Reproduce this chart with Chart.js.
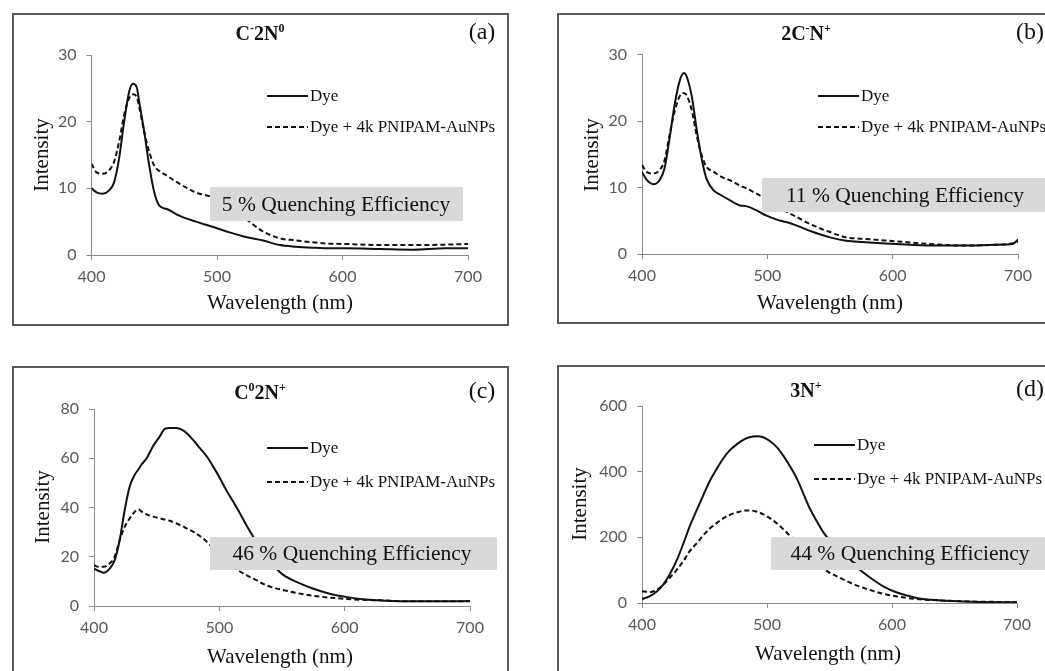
<!DOCTYPE html>
<html>
<head>
<meta charset="utf-8">
<script src="https://cdn.jsdelivr.net/npm/chart.js@4.4.1/dist/chart.umd.min.js"></script>
<style>
  body { margin:0; background:#fff; width:1045px; height:671px; overflow:hidden; position:relative; }
  .cadre { position:absolute; border:2px solid #5a5a5a; box-sizing:border-box; }
  canvas { position:absolute; }
</style>
</head>
<body>
<div class="cadre" style="left:12px;top:13px;width:497px;height:313px"></div>
<div class="cadre" style="left:557px;top:13px;width:520px;height:311px"></div>
<div class="cadre" style="left:12px;top:366px;width:497px;height:340px"></div>
<div class="cadre" style="left:557px;top:365px;width:520px;height:340px"></div>
<canvas id="chartA" width="522" height="335" style="left:0;top:0"></canvas>
<canvas id="chartB" width="520" height="335" style="left:525px;top:0"></canvas>
<canvas id="chartC" width="522" height="335" style="left:0;top:336px"></canvas>
<canvas id="chartD" width="520" height="335" style="left:525px;top:336px"></canvas>
<script>
// ==========================
// Données (longueur d'onde en nm, intensité)
// ==========================
const wlA = [400, 404, 409, 414, 418, 422, 426, 430, 433, 436, 438, 442, 446, 450, 454, 460, 470, 483, 497, 510, 523, 536, 550, 563, 576, 590, 603, 630, 656, 682, 700];
const dyeA = [10.0, 9.4, 9.2, 9.7, 10.9, 14.5, 20.0, 24.5, 25.7, 25.2, 23.0, 18.5, 13.4, 9.4, 7.4, 6.9, 5.9, 5.0, 4.2, 3.4, 2.7, 2.2, 1.5, 1.25, 1.1, 1.0, 1.0, 0.9, 0.8, 1.0, 1.0];
const quenchA = [13.7, 12.4, 12.2, 12.7, 14.0, 17.0, 21.0, 23.5, 24.1, 23.7, 22.2, 18.5, 15.5, 13.4, 12.6, 11.9, 10.7, 9.4, 8.6, 6.9, 5.4, 3.6, 2.5, 2.2, 1.9, 1.7, 1.65, 1.5, 1.5, 1.55, 1.65];

const wlB = [400, 404, 409, 414, 418, 422, 426, 430, 433.5, 436, 440, 443.5, 447.5, 451.5, 457, 463.5, 470, 478, 483, 491, 499, 507, 515, 523, 536.5, 550, 563, 576, 603, 630, 656, 682, 696, 700];
const dyeB = [12.3, 11.1, 10.5, 11.1, 12.9, 17.4, 22.4, 26.0, 27.2, 26.5, 23.4, 18.9, 14.4, 11.3, 9.6, 8.8, 8.1, 7.3, 7.2, 6.6, 5.8, 5.2, 4.8, 4.3, 3.3, 2.5, 2.0, 1.8, 1.5, 1.26, 1.26, 1.4, 1.5, 2.2];
const quenchB = [13.4, 12.3, 12.1, 12.6, 14.1, 17.9, 21.4, 23.7, 24.2, 23.7, 21.4, 17.9, 14.9, 13.1, 12.4, 11.6, 11.1, 10.3, 9.9, 9.1, 8.3, 7.4, 6.4, 5.6, 4.3, 3.3, 2.5, 2.3, 1.9, 1.5, 1.26, 1.4, 1.6, 1.8];

const wlC = [400, 403.5, 407.5, 412.5, 416.5, 420.5, 424.5, 428.5, 432.5, 435.5, 438, 442, 447, 452.5, 456.5, 460.5, 466, 470, 474, 479, 484.5, 490, 495, 500.5, 505.5, 511, 516.5, 521.5, 529.5, 537.5, 548, 553.5, 561.5, 574.5, 588, 601, 614.5, 628, 654, 681, 700];
const dyeC = [15.2, 14.3, 13.5, 15.2, 18.6, 26.8, 39.0, 48.5, 53.3, 55.5, 57.5, 60.0, 64.8, 68.9, 71.9, 72.3, 72.3, 71.6, 70.2, 67.5, 64.1, 60.7, 56.7, 51.9, 47.1, 42.4, 37.6, 32.9, 26.2, 20.8, 13.9, 11.8, 9.8, 7.1, 5.0, 3.7, 2.7, 2.3, 1.9, 1.9, 2.0];
const quenchC = [16.6, 15.9, 15.9, 17.3, 20.0, 26.8, 32.2, 35.6, 38.3, 39.3, 38.3, 37.2, 36.3, 35.6, 35.1, 34.6, 33.5, 32.6, 31.5, 30.2, 28.4, 26.1, 23.5, 21.0, 18.5, 16.0, 14.0, 12.5, 10.5, 8.4, 6.8, 6.2, 5.3, 4.2, 3.4, 2.9, 2.5, 2.3, 1.9, 1.9, 1.9];

const wlD = [400, 406, 412, 417, 422, 428, 433, 438, 444, 449, 454, 460, 465, 470, 476, 481, 486, 492, 497, 502, 508, 513, 518, 524, 529, 534, 540, 545, 549, 556, 567, 575, 583, 593, 604, 615, 625, 644, 671, 700];
const dyeD = [12, 20, 36, 56, 86, 132, 180, 232, 285, 328, 370, 410, 440, 464, 484, 497, 505, 508, 505, 494, 474, 449, 419, 378, 334, 290, 248, 216, 196, 166, 125, 99, 76, 51, 32, 20, 12, 7, 3, 2];
const quenchD = [36, 33, 41, 56, 76, 102, 127, 157, 183, 206, 226, 244, 258, 268, 276, 281, 282, 278, 270, 259, 242, 225, 206, 184, 165, 146, 124, 106, 95, 81, 61, 49, 39, 28, 20, 14, 10.5, 7, 4, 3];

// ticks
const xTicks = [400, 500, 600, 700];
const yMaxParPanneau = [30, 30, 80, 600];
const yPasParPanneau = [10, 10, 20, 200];

// textes
const legendeLabels = ["Dye", "Dye + 4k PNIPAM-AuNPs"];
const titresPanneaux = [
  [["C", 0], ["-", 1], ["2N", 0], ["0", 1]],
  [["2C", 0], ["-", 1], ["N", 0], ["+", 1]],
  [["C", 0], ["0", 1], ["2N", 0], ["+", 1]],
  [["3N", 0], ["+", 1]]
];
const lettres = ["(a)", "(b)", "(c)", "(d)"];
const textesQuenching = ["5 % Quenching Efficiency", "11 % Quenching Efficiency", "46 % Quenching Efficiency", "44 % Quenching Efficiency"];

// ==========================
// Mise en page de chaque panneau (coordonnées dans le canvas)
// ==========================
const largeurAxeY = 50;
const mises = [
  { id: "chartA", pad: { left: 91.5 - largeurAxeY, right: 54, top: 55, bottom: 50 },
    titre: [260, 33], lettre: [482, 33], leg: [267, 308, 96, 127],
    boite: [210, 187, 253, 34], texteBoite: [336, 205], ytitre: [42, 155], xtitre: [280, 303] },
  { id: "chartB", pad: { left: 117 - largeurAxeY, right: 27, top: 54.5, bottom: 51 },
    titre: [281, 33], lettre: [505, 33], leg: [293, 334, 96, 127],
    boite: [237, 178, 290, 34], texteBoite: [380, 196], ytitre: [67, 155], xtitre: [305, 303] },
  { id: "chartC", pad: { left: 94 - largeurAxeY, right: 52, top: 73, bottom: 35 },
    titre: [260, 56], lettre: [482, 56], leg: [267, 308, 112, 146],
    boite: [210, 201, 287, 33], texteBoite: [352, 218], ytitre: [43, 171], xtitre: [280, 321] },
  { id: "chartD", pad: { left: 117 - largeurAxeY, right: 28, top: 70, bottom: 38 },
    titre: [281, 54], lettre: [505, 54], leg: [289, 330, 109, 143],
    boite: [246, 201, 280, 33], texteBoite: [385, 218], ytitre: [55, 168], xtitre: [303, 318] }
];

const serif = '"Liberation Serif", "Times New Roman", serif';

function texteRiche(ctx, parts, cx, cy, size) {
  const base = "bold " + size + "px " + serif;
  const sup = "bold " + Math.round(size * 0.6) + "px " + serif;
  let total = 0;
  parts.forEach(p => { ctx.font = p[1] ? sup : base; total += ctx.measureText(p[0]).width; });
  let x = cx - total / 2;
  ctx.textAlign = "left";
  ctx.textBaseline = "alphabetic";
  parts.forEach(p => {
    ctx.font = p[1] ? sup : base;
    ctx.fillText(p[0], x, p[1] ? cy + size * 0.33 - size * 0.38 : cy + size * 0.33);
    x += ctx.measureText(p[0]).width;
  });
}

// plugin : titre, lettre, légende, encadré gris, titres d'axes
const decorPanneau = {
  id: "decorPanneau",
  afterDraw(chart, args, o) {
    const ctx = chart.ctx;
    const m = o.mise;
    ctx.save();
    ctx.fillStyle = "#111";
    texteRiche(ctx, o.titre, m.titre[0], m.titre[1], 20);
    ctx.font = "24px " + serif;
    ctx.textAlign = "center";
    ctx.textBaseline = "middle";
    ctx.fillText(o.lettre, m.lettre[0], m.lettre[1]);

    // légende
    ctx.font = "17px " + serif;
    ctx.textAlign = "left";
    chart.data.datasets.forEach((ds, i) => {
      const y = m.leg[2 + i];
      ctx.strokeStyle = ds.borderColor;
      ctx.lineWidth = ds.borderWidth;
      ctx.setLineDash(ds.borderDash || []);
      ctx.beginPath();
      ctx.moveTo(m.leg[0], y);
      ctx.lineTo(m.leg[1], y);
      ctx.stroke();
      ctx.fillText(ds.label, m.leg[1] + 2, y + 1);
    });
    ctx.setLineDash([]);

    // encadré
    ctx.fillStyle = "#d9d9d9";
    ctx.fillRect(m.boite[0], m.boite[1], m.boite[2], m.boite[3]);
    ctx.fillStyle = "#111";
    ctx.font = "21.5px " + serif;
    ctx.textAlign = "center";
    ctx.fillText(o.texteBoite, m.texteBoite[0], m.texteBoite[1]);

    // titres d'axes
    ctx.font = "21px " + serif;
    ctx.fillText("Wavelength (nm)", m.xtitre[0], m.xtitre[1]);
    ctx.translate(m.ytitre[0], m.ytitre[1]);
    ctx.rotate(-Math.PI / 2);
    ctx.fillText("Intensity", 0, 0);
    ctx.restore();
  }
};

const series = [[wlA, dyeA, quenchA], [wlB, dyeB, quenchB], [wlC, dyeC, quenchC], [wlD, dyeD, quenchD]];

function points(wl, vals) {
  return wl.map((x, i) => ({ x: x, y: vals[i] }));
}

const tickFont = { family: "Lato, 'Open Sans', sans-serif", size: 16 };

mises.forEach((m, k) => {
  const [wl, dye, quench] = series[k];
  new Chart(document.getElementById(m.id), {
    type: "line",
    data: {
      datasets: [
        { label: legendeLabels[0], data: points(wl, dye), borderColor: "#111", borderWidth: 2,
          pointRadius: 0, cubicInterpolationMode: "monotone" },
        { label: legendeLabels[1], data: points(wl, quench), borderColor: "#111", borderWidth: 2,
          borderDash: [5, 3], pointRadius: 0, cubicInterpolationMode: "monotone" }
      ]
    },
    options: {
      responsive: false,
      animation: false,
      layout: { padding: m.pad },
      plugins: {
        legend: { display: false },
        tooltip: { enabled: false },
        decorPanneau: { mise: m, titre: titresPanneaux[k], lettre: lettres[k], texteBoite: textesQuenching[k] }
      },
      scales: {
        x: {
          type: "linear", min: xTicks[0], max: xTicks[xTicks.length - 1],
          afterBuildTicks: s => { s.ticks = xTicks.map(v => ({ value: v })); },
          afterFit: s => { s.height = 30; },
          ticks: { font: tickFont, color: "#595959", padding: 7, maxRotation: 0 },
          grid: { drawOnChartArea: false, drawTicks: true, tickLength: 5, color: "#8a8a8a" },
          border: { color: "#8a8a8a" }
        },
        y: {
          min: 0, max: yMaxParPanneau[k],
          afterFit: s => { s.width = largeurAxeY; },
          ticks: { stepSize: yPasParPanneau[k], font: tickFont, color: "#595959", padding: 10 },
          grid: { drawOnChartArea: false, drawTicks: true, tickLength: 5, color: "#8a8a8a" },
          border: { color: "#8a8a8a" }
        }
      }
    },
    plugins: [decorPanneau]
  });
});
</script>
</body>
</html>
